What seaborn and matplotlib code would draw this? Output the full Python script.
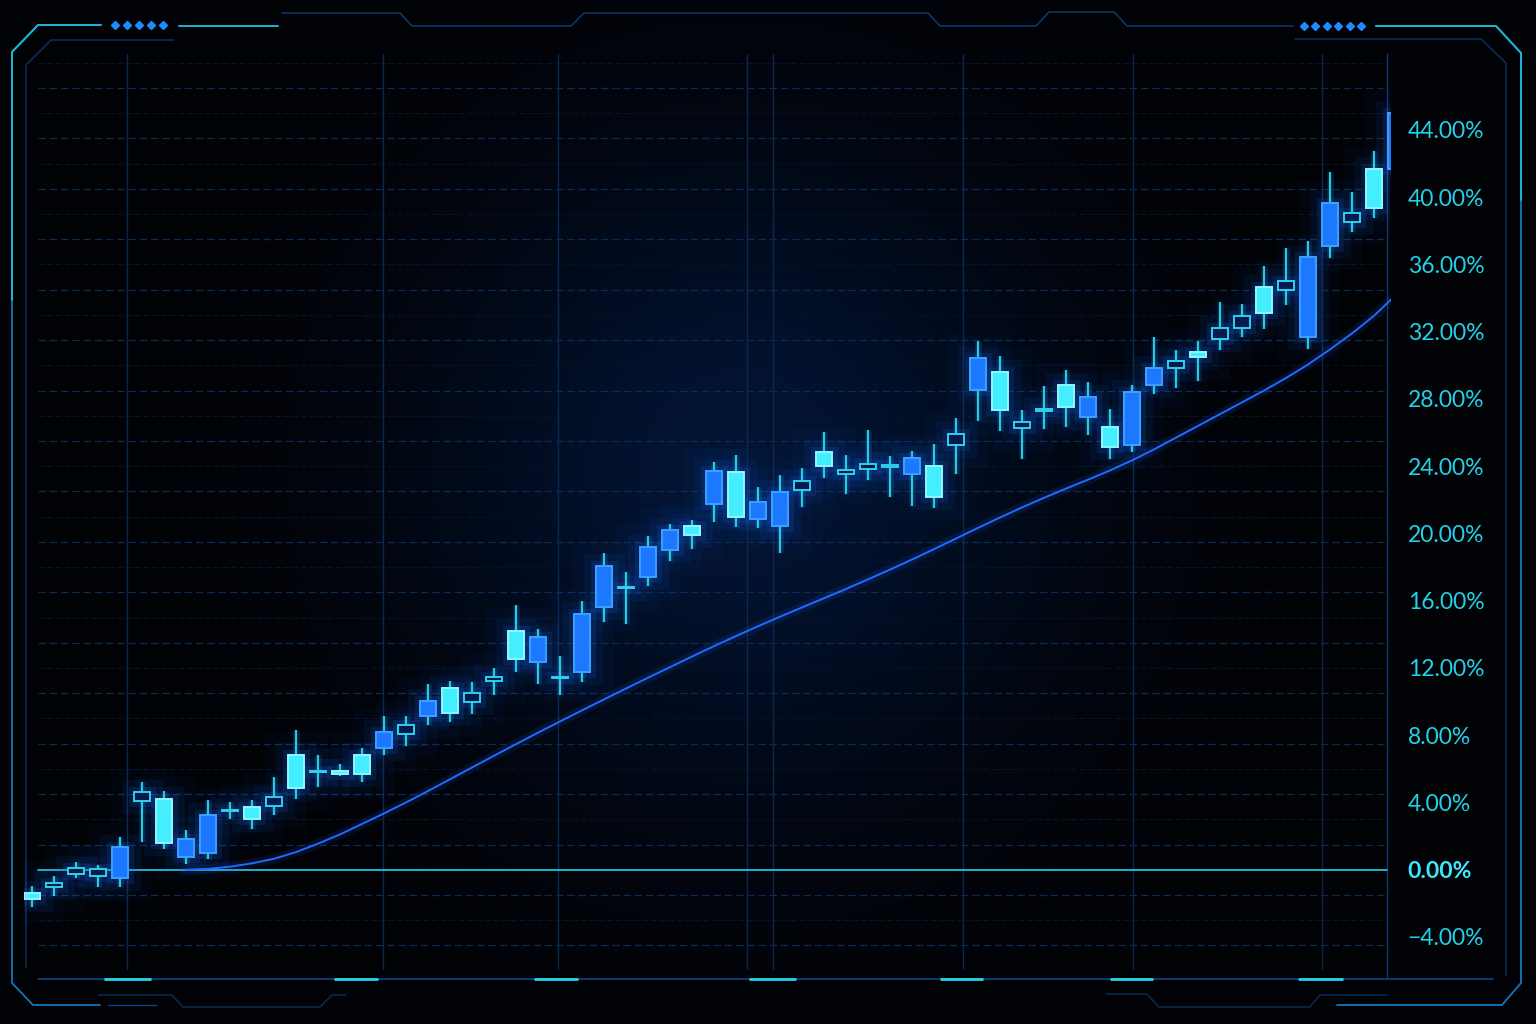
import numpy as np
import pandas as pd
import seaborn as sns
import matplotlib.pyplot as plt
from matplotlib.lines import Line2D
from matplotlib.ticker import FuncFormatter


"""### Data: cumulative return candles (%)"""

opens = [-1.37, -1.01, -0.24, -0.36, -0.48, 4.06, 4.22, 0.73, 0.99, 3.50,
         3.74, 3.79, 6.83, 5.80, 5.89, 6.83, 7.22, 8.06, 9.12, 10.82,
         10.00, 11.24, 14.21, 12.36, 11.41, 11.76, 15.64, 16.76, 17.42, 19.02,
         20.43, 21.78, 23.63, 20.86, 20.43, 22.58, 24.85, 23.51, 23.82, 23.97,
         23.51, 24.00, 25.27, 28.55, 29.58, 26.30, 27.30, 28.85, 26.91, 26.36,
         25.27, 28.85, 29.82, 30.79, 31.58, 32.25, 34.65, 34.46, 31.70, 37.09,
         38.52, 41.65, 41.70]
highs = [-0.96, -0.36, 0.47, 0.26, 1.92, 5.22, 4.67, 2.39, 4.17, 4.05,
         4.17, 5.50, 8.29, 6.83, 6.28, 7.22, 9.12, 9.12, 11.06, 11.24,
         11.18, 12.00, 15.76, 14.33, 12.72, 16.00, 18.83, 17.72, 19.82, 20.55,
         20.80, 24.24, 24.67, 22.77, 23.45, 23.88, 26.06, 24.67, 26.18, 24.60,
         24.91, 25.33, 26.85, 31.45, 30.55, 27.33, 28.79, 29.70, 29.03, 27.39,
         28.85, 31.70, 30.91, 31.45, 33.78, 33.66, 35.88, 36.97, 37.39, 41.52,
         40.30, 42.73, 45.20]
lows = [-2.20, -1.55, -0.48, -1.01, -1.01, 1.66, 1.25, 0.36, 0.62, 3.01,
        2.44, 3.27, 4.22, 4.94, 5.56, 5.22, 6.83, 7.33, 8.59, 8.76,
        9.29, 10.41, 11.76, 11.06, 10.41, 11.18, 14.75, 14.63, 16.86, 18.34,
        19.08, 20.68, 20.37, 20.31, 18.83, 21.60, 23.32, 22.34, 23.20, 22.15,
        21.66, 21.54, 23.51, 26.67, 26.12, 24.42, 26.24, 26.36, 25.88, 24.42,
        24.85, 28.30, 28.67, 29.09, 30.91, 31.70, 32.18, 33.60, 30.97, 36.36,
        37.94, 38.76, 41.20]
closes = [-1.73, -0.78, 0.10, 0.05, 1.35, 4.61, 1.61, 1.82, 3.27, 3.56,
          3.01, 4.33, 4.89, 5.86, 5.72, 5.72, 8.18, 8.59, 10.06, 9.35,
          10.53, 11.47, 12.54, 13.85, 11.47, 15.22, 18.09, 16.84, 19.20, 20.18,
          19.88, 23.69, 20.98, 21.85, 22.46, 23.14, 24.00, 23.75, 24.12, 24.03,
          24.48, 22.15, 25.94, 30.42, 27.33, 26.60, 27.36, 27.52, 28.12, 25.15,
          28.42, 29.82, 30.24, 30.48, 32.25, 32.92, 33.11, 35.02, 36.42, 39.64,
          39.09, 39.33, 45.00]
trend = [np.nan, np.nan, np.nan, np.nan, np.nan, np.nan, np.nan, 0.00, 0.05, 0.18,
         0.38, 0.65, 1.05, 1.55, 2.10, 2.72, 3.35, 4.00, 4.68, 5.38,
         6.08, 6.78, 7.47, 8.15, 8.82, 9.48, 10.13, 10.78, 11.42, 12.05,
         12.68, 13.30, 13.90, 14.48, 15.05, 15.60, 16.15, 16.70, 17.27, 17.85,
         18.45, 19.07, 19.70, 20.33, 20.95, 21.55, 22.12, 22.67, 23.20, 23.75,
         24.35, 25.00, 25.70, 26.40, 27.10, 27.80, 28.50, 29.25, 30.05, 30.95,
         31.90, 32.95, 34.20]
y_ticks = [-4, 0, 4, 8, 12, 16, 20, 24, 28, 32, 36, 40, 44]

df = pd.DataFrame({"open": opens, "high": highs, "low": lows,
                   "close": closes, "trend": trend})
df["day"] = np.arange(len(df))
df["up"] = df["close"] >= df["open"]
df["body_lo"] = df[["open", "close"]].min(axis=1)
df["body_h"] = (df["close"] - df["open"]).abs().clip(lower=0.08)
df["small"] = df["up"] & ((df["close"] - df["open"]).abs() < 0.75)

"""### Theme"""

sns.set_theme(style="dark", rc={"figure.facecolor": "#010204",
                                "axes.facecolor": "none"})
plt.rcParams['font.family'] = ['Lato', 'DejaVu Sans']

W, H = 1536, 1024
fig = plt.figure(figsize=(W / 100, H / 100), dpi=100)

# background haze, strongest behind the middle of the candles
bg = fig.add_axes([0, 0, 1, 1], zorder=0)
bg.axis("off")
gy, gx = np.mgrid[0:256, 0:384]
dist = np.sqrt(((gx - 185) / 384 * 1.5) ** 2 + ((gy - 118) / 256) ** 2)
haze = np.exp(-(dist / 0.30) ** 2)
dark = np.array([1, 2, 5]) / 255
navy = np.array([3, 20, 52]) / 255
bg.imshow(dark + haze[..., None] * (navy - dark), extent=[0, 1, 0, 1],
          aspect="auto", origin="upper")

# plot area in pixels: left 24, right 1391, top 40, bottom 978
ax = fig.add_axes([24 / W, 46 / H, 1367 / W, 938 / H], zorder=2)
ax.patch.set_alpha(0)
ax.set_xlim(-0.364, 61.77)
ax.set_ylim(-6.44, 49.35)
x0, x1 = 14 / 1367, 1363 / 1367

# grid
for v in np.arange(-4.5, 49, 3):
    ax.axhline(v, xmin=x0, xmax=x1, color="#0c2b52", lw=0.9, ls=(0, (6, 3)), zorder=1)
for v in np.arange(-3, 49, 3):
    ax.axhline(v, xmin=x0, xmax=x1, color="#071528", lw=0.7, ls=(0, (6, 3)), zorder=1)
for d in [4.3, 15.95, 23.9, 32.5, 33.7, 42.3, 50.05, 58.65]:
    ax.axvline(d, ymin=0.01, ymax=0.985, color="#0b2850", lw=1.0, zorder=1)
ax.axvline(61.6, ymin=0.0, ymax=0.985, color="#0f3a6c", lw=1.0, zorder=1)

# zero line
ax.axhline(0, xmin=x0, xmax=x1, color="#1cc4d6", lw=1.3, zorder=2)

"""### Trend line"""

ax.plot(df["day"], df["trend"], color="#1a5cff", lw=7, alpha=0.12, zorder=2)
sns.lineplot(data=df, x="day", y="trend", ax=ax, color="#1f6dff", lw=1.4, zorder=3)

"""### Candles"""

faces = np.where(df["up"], "#1b78ff", "#45eeff")
faces = np.where(df["small"], "#071a4e", faces)
edges = np.where(df["up"], "#3aa2ff", "#8ff8ff")
edges = np.where(df["small"], "#2fd2ea", edges)

for lw, a in [(34, 0.035), (18, 0.07), (8, 0.14)]:
    ax.bar(df["day"], df["body_h"], bottom=df["body_lo"], width=0.72,
           color="none", edgecolor="#1a6cff", linewidth=lw, alpha=a, zorder=3)
ax.vlines(df["day"], df["low"], df["high"], color="#1f8fff", lw=5, alpha=0.15, zorder=3)
ax.vlines(df["day"], df["low"], df["high"], color="#28cadf", lw=1.6, zorder=4)
ax.bar(df["day"], df["body_h"], bottom=df["body_lo"], width=0.72,
       color=faces, edgecolor=edges, linewidth=1.4, zorder=5)

"""### Axis labels"""

ax.set_xticks([])
ax.set_yticks(y_ticks)
ax.yaxis.tick_right()
ax.yaxis.set_major_formatter(FuncFormatter(lambda v, p: f"{v:.2f}%".replace("-", "\u2212")))
ax.tick_params(axis="y", length=0, pad=12, labelsize=16.5, labelcolor="#22d2e8")
ax.set_xlabel("")
ax.set_ylabel("")
ax.grid(False)
for s in ax.spines.values():
    s.set_visible(False)
for i, lbl in enumerate(ax.get_yticklabels()):
    lbl.set_fontweight("normal")
    if y_ticks[i] == 0:
        lbl.set_fontweight("bold")
        lbl.set_color("#3de8ff")

"""### HUD frame"""


def frame(xs, ys, color, lw=1.2, alpha=1.0, **kw):
    fig.add_artist(Line2D([x / W for x in xs], [1 - y / H for y in ys],
                          color=color, lw=lw, alpha=alpha, **kw))


frame([100, 33, 12, 12, 38, 101], [1005, 1005, 983, 52, 25, 25], "#1178b8", 1.3)
frame([12, 12, 38, 101], [300, 52, 25, 25], "#1fb4d4", 1.4)
frame([179, 278], [26, 26], "#1fb0d6", 1.4)
frame([282, 400, 412, 571, 584, 928, 940, 1036, 1049, 1114, 1127, 1293],
      [13, 13, 26, 26, 13, 13, 26, 26, 12, 12, 26, 26], "#0b4178", 1.0)
frame([1376, 1496, 1521, 1521, 1502, 1337], [26, 26, 53, 983, 1005, 1005], "#1178c0", 1.3)
frame([1376, 1496, 1521, 1521], [26, 26, 53, 200], "#1fb4d4", 1.4)
frame([26, 26, 51, 174], [967, 65, 40, 40], "#0a3468", 1.0)
frame([1295, 1481, 1506, 1506], [39, 39, 63, 975], "#0a3468", 1.0)
frame([38, 1493], [979, 979], "#0c4286", 1.2)
for a, b in [(105, 150), (335, 377), (535, 577), (750, 795), (941, 982), (1111, 1152), (1299, 1342)]:
    frame([a, b], [979, 979], "#22d6ea", 2.0)
frame([98, 172, 183, 320, 332, 346], [995, 995, 1007, 1007, 995, 995], "#0a2f5c", 1.0)
frame([1106, 1147, 1159, 1310, 1320, 1387], [994, 994, 1007, 1007, 995, 995], "#0a2f5c", 1.0)
frame([108, 156], [1005, 1005], "#0c4286", 1.0)
frame([115, 127, 139, 151, 163], [25] * 5, "#1e8cff", 0, marker="D", markersize=4, ls="none")
frame([1304, 1315, 1327, 1338, 1350, 1361], [26] * 6, "#1e8cff", 0, marker="D", markersize=4, ls="none")

fig.savefig("out.png", dpi=100, facecolor=fig.get_facecolor())
